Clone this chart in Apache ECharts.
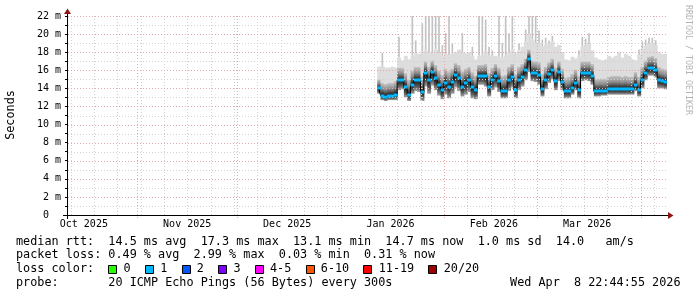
<!DOCTYPE html>
<html><head><meta charset="utf-8">
<script src="https://cdn.jsdelivr.net/npm/echarts@6/dist/echarts.min.js"></script>
<style>html,body{margin:0;padding:0;background:#fff}#c{width:697px;height:297px}</style>
</head><body><div id="c"></div>
<script>
// ---- time range ----
const X_START = Date.UTC(2025, 9, 10, 22, 45);
const X_END = Date.UTC(2026, 3, 8, 22, 45);
const DAY = 86400000;
const FIRST_BIN = '2026-01-12';

// ---- data (ms), one bin per day from FIRST_BIN ----
const median = [
 14.0,13.2,13.1,13.2,13.2,13.3,14.9,14.9,14.1,13.3,
 14.4,14.9,14.9,13.6,15.7,14.9,15.8,15.1,14.4,13.8,
 14.6,14.2,14.7,15.5,15.1,14.2,14.6,14.9,14.1,13.8,
 15.4,15.4,15.4,14.1,14.9,15.4,14.8,13.7,13.7,14.9,
 15.3,13.8,14.9,15.3,16.0,17.3,15.7,15.7,15.5,13.9,
 14.9,15.6,16.0,14.8,15.8,14.7,13.7,13.7,14.0,14.6,
 13.8,15.7,15.7,15.7,15.4,13.7,13.7,13.7,13.7,13.9,
 13.9,13.9,13.9,13.9,13.9,13.9,13.9,14.4,13.8,14.9,
 15.7,16.2,16.2,16.0,14.9,14.8,14.7];
const smokeLow = [
 13.4,12.7,12.6,12.7,12.7,12.7,13.8,13.9,13.0,12.6,
 13.4,13.7,13.6,12.6,14.2,13.4,14.3,13.8,13.2,12.8,
 13.3,12.9,13.4,14.1,13.7,13.1,13.3,13.6,12.9,12.8,
 14.4,14.4,14.2,13.1,13.8,14.1,13.6,12.9,12.9,13.7,
 14.1,12.9,13.8,14.2,14.9,15.8,14.8,14.7,14.4,13.1,
 13.9,14.6,15.0,13.8,14.8,13.8,12.9,12.9,13.3,13.8,
 12.9,14.8,14.9,14.8,14.4,13.1,13.1,13.2,13.2,13.3,
 13.3,13.3,13.3,13.3,13.3,13.3,13.3,13.7,13.1,14.0,
 14.9,15.4,15.4,15.2,14.0,14.0,13.9];
const smokeMid = [
 15.0,14.6,14.5,14.6,14.6,14.8,16.3,16.3,15.7,15.0,
 16.0,16.4,16.4,15.4,17.0,16.4,17.1,16.6,16.0,15.5,
 16.2,15.9,16.2,16.8,16.6,15.9,16.2,16.4,15.8,15.4,
 16.6,16.6,16.7,15.7,16.3,16.7,16.3,15.4,15.5,16.4,
 16.7,15.6,16.4,16.7,17.3,18.3,17.1,17.0,16.9,15.6,
 16.4,16.9,17.3,16.3,17.0,16.2,15.2,15.3,15.6,16.1,
 15.4,17.0,17.0,17.0,16.7,15.1,15.1,15.1,15.1,15.3,
 15.4,15.4,15.4,15.3,15.4,15.3,15.3,15.8,15.3,16.4,
 17.1,17.5,17.6,17.4,16.4,16.2,16.1];
const smokeTop = [
 16.4,16.5,16.3,16.3,16.4,16.3,17.4,17.1,17.6,17.2,
 17.6,17.9,17.8,18.1,18.2,18.0,17.9,18.3,17.9,17.6,
 17.8,17.7,17.9,18.0,18.3,18.0,17.9,18.0,17.6,17.2,
 17.6,17.7,18.1,17.6,17.6,17.6,17.5,17.4,17.6,18.0,
 18.3,18.0,18.2,18.6,19.2,20.0,19.4,19.0,19.0,18.6,
 18.8,19.0,19.2,18.6,18.8,18.0,17.2,17.1,17.5,17.3,
 17.6,18.6,18.8,18.9,18.2,17.4,17.2,17.1,17.2,17.6,
 17.4,17.6,18.0,17.4,17.8,17.6,17.2,17.1,17.7,18.4,
 18.7,18.9,19.0,18.8,18.0,17.8,17.8];
const spikeTop = [
 null,17.9,null,null,null,null,19.7,null,null,null,
 22.5,19.3,null,21.2,22.5,22.5,22.5,22.5,22.5,18.8,
 20.1,22.5,19.0,null,null,20.1,null,null,18.6,null,
 22.5,22.5,21.6,18.6,18.2,null,22.5,19.0,22.5,20.1,
 22.5,null,19.0,null,20.5,22.5,22.5,22.5,20.4,19.4,
 19.6,19.3,19.8,null,null,null,null,null,null,null,
 18.2,19.7,19.5,20.1,null,null,null,null,null,null,
 null,null,null,null,null,null,null,null,18.3,19.2,
 19.4,19.6,19.6,19.3,null,null,null];

// ---- axis ticks / labels ----
const monthLines = ['2025-11-01','2025-12-01','2026-01-01','2026-02-01','2026-03-01','2026-04-01'];
const monthLabelDates = ['2025-10-16','2025-11-16','2025-12-16','2026-01-16','2026-02-16','2026-03-16'];
const monthLabels = ['Oct 2025','Nov 2025','Dec 2025','Jan 2026','Feb 2026','Mar 2026'];
const FIRST_SUNDAY = '2025-10-12';
const yMajor = [2,4,6,8,10,12,14,16,18,20,22];
const yMinor = [1,3,5,7,9,11,13,15,17,19,21];
const yTickLabels = ['0  ','2 m','4 m','6 m','8 m','10 m','12 m','14 m','16 m','18 m','20 m','22 m'];
const lossLabels = ['0','1','2','3','4-5','6-10','11-19','20/20'];
const lossColors = ['#26ff00','#00b8ff','#0059ff','#7e00ff','#ff00ff','#ff5500','#ff0000','#a10000'];

// ---- build ----
const t0 = Date.parse(FIRST_BIN);
const binData = median.map((m, i) => [t0 + i * DAY + DAY / 2, smokeLow[i], m, smokeMid[i], smokeTop[i], spikeTop[i] == null ? 0 : spikeTop[i]]);
const medLine = median.map((m, i) => [t0 + i * DAY + DAY / 2, m]);
const weekLines = [];
for (let t = Date.parse(FIRST_SUNDAY); t < X_END; t += 7 * DAY) weekLines.push([t, 0]);
const monthLineData = monthLines.map(d => [Date.parse(d), 1]);
const labelTimes = monthLabelDates.map(d => Date.parse(d));
const hLines = yMinor.map(v => [X_START, v, 0]).concat(yMajor.map(v => [X_START, v, 1]));

const MONO = '"DejaVu Sans Mono", monospace';
const GRID_MAJOR = '#e4a8a8';
const GRID_MINOR = '#d2d2d2';

function renderSmoke(params, api) {
  const t = api.value(0);
  const xa = api.coord([t - DAY / 2, 0])[0];
  const xb = api.coord([t + DAY / 2, 0])[0];
  const w = xb - xa;
  const Y = v => api.coord([t, v])[1];
  const yLow = Y(api.value(1)), yMed = Y(api.value(2)), yMid = Y(api.value(3)), yTop = Y(api.value(4));
  const ch = [];
  const sp = api.value(5);
  if (sp > 0) {
    const ys = Y(sp);
    ch.push({type: 'rect', shape: {x: xa + w * 0.3, y: ys, width: w * 0.5, height: yTop - ys}, style: {fill: '#c2c2c2'}});
  }
  ch.push({type: 'rect', shape: {x: xa, y: yTop, width: w + 0.6, height: yMid - yTop}, style: {fill: '#dddddd'}});
  ch.push({type: 'rect', shape: {x: xa, y: yMid, width: w + 0.6, height: yMed - yMid},
    style: {fill: new echarts.graphic.LinearGradient(0, 0, 0, 1, [
      {offset: 0, color: '#c6c6c6'}, {offset: 0.45, color: '#8e8e8e'}, {offset: 0.8, color: '#3c3c3c'}, {offset: 1, color: '#161616'}])}});
  ch.push({type: 'rect', shape: {x: xa, y: yMed, width: w + 0.6, height: yLow - yMed},
    style: {fill: new echarts.graphic.LinearGradient(0, 0, 0, 1, [
      {offset: 0, color: '#161616'}, {offset: 0.55, color: '#555555'}, {offset: 1, color: '#a5a5a5'}])}});
  return {type: 'group', children: ch};
}
function renderLossBar(params, api) {
  const t = api.value(0);
  const xa = api.coord([t - DAY / 2, 0])[0];
  const xb = api.coord([t + DAY / 2, 0])[0];
  const y = api.coord([t, api.value(1)])[1];
  return {type: 'rect', shape: {x: xa, y: Math.round(y) - 1.5, width: xb - xa + 0.4, height: 3}, style: {fill: '#00b8ff'}};
}
function renderVLine(params, api) {
  const cs = params.coordSys;
  const x = Math.round(api.coord([api.value(0), 0])[0]) + 0.5;
  const major = api.value(1) === 1;
  if (x < cs.x + 1 || x > cs.x + cs.width) return null;
  return {type: 'line', shape: {x1: x, y1: cs.y, x2: x, y2: cs.y + cs.height + (major ? 3 : 0)},
    style: {stroke: major ? GRID_MAJOR : GRID_MINOR, lineWidth: 1, lineDash: [1, 2]}};
}
function renderHLine(params, api) {
  const cs = params.coordSys;
  const y = Math.round(api.coord([X_START, api.value(1)])[1]) + 0.5;
  const major = api.value(2) === 1;
  return {type: 'line', shape: {x1: cs.x + 1, y1: y, x2: cs.x + cs.width, y2: y},
    style: {stroke: major ? GRID_MAJOR : GRID_MINOR, lineWidth: 1, lineDash: [1, 2]}};
}

// legend graphics
const FS = 11.8, CW = 7.1, LX = 16;
const gfx = [];
function txt(s, x, y, align) {
  gfx.push({type: 'text', x: x, y: y, silent: true,
    style: {text: s, fill: '#000', font: FS + 'px ' + MONO, textAlign: align || 'left', textVerticalAlign: 'middle'}});
}
txt('median rtt:  14.5 ms avg  17.3 ms max  13.1 ms min  14.7 ms now  1.0 ms sd  14.0   am/s', LX, 241.5);
txt('packet loss: 0.49 % avg  2.99 % max  0.03 % min  0.31 % now', LX, 255.2);
txt('loss color:', LX, 269);
let bx = LX + 13 * CW;
lossLabels.forEach((lab, i) => {
  gfx.push({type: 'rect', silent: true, shape: {x: Math.round(bx) + 0.5, y: 265.5, width: 8, height: 8},
    style: {fill: lossColors[i], stroke: '#000', lineWidth: 1}});
  txt(lab, bx + 15.3, 269);
  bx = bx + 15.3 + (lab.length + 2) * CW;
});
txt('probe:       20 ICMP Echo Pings (56 Bytes) every 300s', LX, 282.7);
txt('Wed Apr  8 22:44:55 2026', 680.5, 282.7, 'right');
gfx.push({type: 'text', x: 688.5, y: 5, rotation: -Math.PI / 2, silent: true,
  style: {text: 'RRDTOOL / TOBI OETIKER', fill: '#b4b4b4', font: '8.3px ' + MONO, textAlign: 'left', textVerticalAlign: 'middle'}});
gfx.push({type: 'text', x: 11, y: 115, rotation: Math.PI / 2, silent: true,
  style: {text: 'Seconds', fill: '#000', font: FS + 'px ' + MONO, textAlign: 'center', textVerticalAlign: 'middle'}});
// axis extensions and arrowheads
gfx.push({type: 'line', silent: true, shape: {x1: 63, y1: 215.5, x2: 68, y2: 215.5}, style: {stroke: '#000', lineWidth: 1}});
gfx.push({type: 'line', silent: true, shape: {x1: 67.5, y1: 215, x2: 67.5, y2: 219}, style: {stroke: '#000', lineWidth: 1}});
gfx.push({type: 'line', silent: true, shape: {x1: 667, y1: 215.5, x2: 669, y2: 215.5}, style: {stroke: '#000', lineWidth: 1}});
gfx.push({type: 'line', silent: true, shape: {x1: 67.5, y1: 12, x2: 67.5, y2: 16}, style: {stroke: '#000', lineWidth: 1}});
gfx.push({type: 'polygon', silent: true, shape: {points: [[668, 212], [673.5, 215.5], [668, 219]]}, style: {fill: '#8e1414'}});
gfx.push({type: 'polygon', silent: true, shape: {points: [[64, 14], [67.5, 8.5], [71, 14]]}, style: {fill: '#8e1414'}});

const chart = echarts.init(document.getElementById('c'), null, {renderer: 'canvas'});
chart.setOption({
  animation: false,
  backgroundColor: '#ffffff',
  grid: {left: 67, right: 30, top: 16, bottom: 82, containLabel: false},
  xAxis: {
    type: 'value', min: X_START, max: X_END,
    axisLine: {show: true, lineStyle: {color: '#000', width: 1}},
    axisTick: {show: false}, splitLine: {show: false},
    axisLabel: {
      customValues: labelTimes, margin: 4, color: '#000', fontFamily: MONO, fontSize: 10,
      formatter: v => { const i = labelTimes.indexOf(v); return i >= 0 ? monthLabels[i] : ''; }
    }
  },
  yAxis: {
    type: 'value', min: 0, max: 22, interval: 2,
    axisLine: {show: true, lineStyle: {color: '#000', width: 1}},
    axisTick: {show: true, length: 2, lineStyle: {color: '#000'}},
    minorTick: {show: true, splitNumber: 2, length: 2, lineStyle: {color: '#000'}},
    splitLine: {show: false},
    axisLabel: {margin: 6, color: '#000', fontFamily: MONO, fontSize: 10,
      formatter: v => yTickLabels[Math.round(v / 2)]}
  },
  series: [
    {type: 'custom', name: 'smoke', renderItem: renderSmoke, data: binData, clip: true, z: 2, silent: true},
    {type: 'custom', name: 'vgrid', renderItem: renderVLine, data: weekLines.concat(monthLineData), clip: false, z: 3, silent: true},
    {type: 'custom', name: 'hgrid', renderItem: renderHLine, data: hLines, clip: false, z: 3, silent: true},
    {type: 'line', name: 'median', data: medLine, step: 'middle', showSymbol: false, symbol: 'none',
      lineStyle: {color: '#000', width: 1}, z: 4, silent: true, clip: true},
    {type: 'custom', name: 'loss', renderItem: renderLossBar, data: medLine, clip: true, z: 5, silent: true}
  ],
  graphic: gfx
});
</script></body></html>
